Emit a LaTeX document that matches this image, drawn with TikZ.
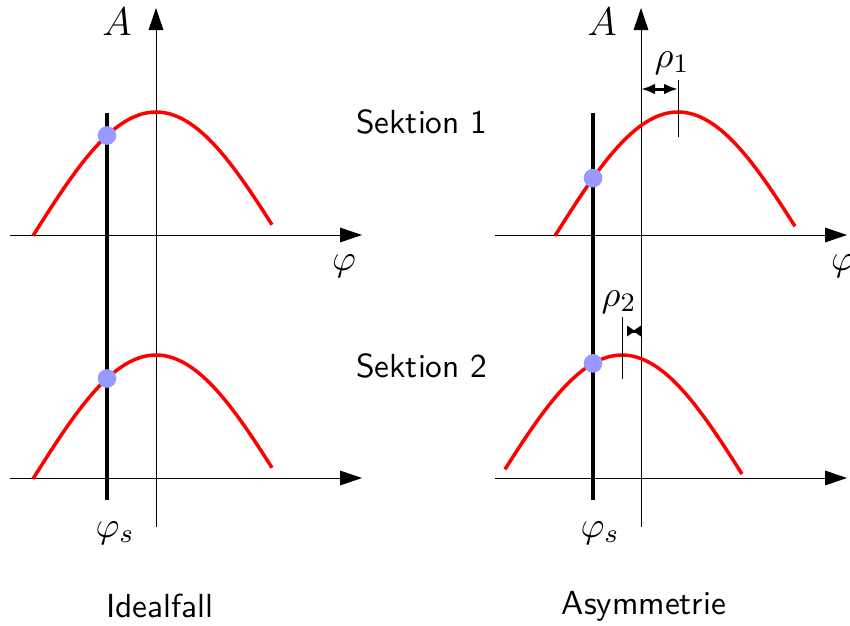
\documentclass[tikz,border=0pt]{standalone}
\usetikzlibrary{arrows.meta}
\begin{document}
\begin{tikzpicture}[x=0.3pt,y=-0.3pt,
  axis/.style={line width=0.28pt, -{Triangle[length=6.6pt,width=4.4pt]}},
  thinln/.style={line width=0.28pt},
  curve/.style={red, line width=1.05pt},
  phase/.style={black, line width=1.25pt},
  dot/.style={circle, fill=blue!40, inner sep=0pt, minimum size=5.6pt},
  mlabel/.style={font=\fontsize{11}{13}\selectfont, inner sep=0pt},
  alabel/.style={font=\fontsize{12.5}{14}\selectfont, inner sep=0pt},
  tlabel/.style={font=\sffamily\fontsize{10}{12}\selectfont, inner sep=0pt}]
\useasboundingbox (0,0) rectangle (850,626);

% ---------- left panel (Idealfall) ----------
\coordinate (LVb) at (156,527); \coordinate (LVt) at (156,8);
\coordinate (LH1a) at (10,235); \coordinate (LH1b) at (362,235);
\coordinate (LH2a) at (10,478); \coordinate (LH2b) at (362,478);
\draw[axis] (LVb) -- (LVt);
\draw[axis] (LH1a) -- (LH1b);
\draw[axis] (LH2a) -- (LH2b);
\draw[curve] plot[domain=33:272, samples=80, smooth] (\x, {235-123*cos(deg((\x-156)/78))});
\draw[curve] plot[domain=33:272, samples=80, smooth] (\x, {478-123*cos(deg((\x-156)/78))});
\coordinate (LPa) at (107,113); \coordinate (LPb) at (107,500);
\draw[phase] (LPa) -- (LPb);
\node[dot] (ld1) at (107,{235-123*cos(deg((107-156)/78))}) {};
\node[dot] (ld2) at (107,{478-123*cos(deg((107-156)/78))}) {};
\node[alabel] (lA) at (117,22) {$A$};
\node[mlabel] (lphi) at (344,266) {$\varphi$};
\node[mlabel] (lphis) at (115,533) {$\varphi_s$};
\node[tlabel] (ideal) at (160,606) {Idealfall};

% ---------- middle texts ----------
\node[tlabel] (s1) at (422,122) {Sektion 1};
\node[tlabel] (s2) at (422,366) {Sektion 2};

% ---------- right panel (Asymmetrie) ----------
\coordinate (RVb) at (641,527); \coordinate (RVt) at (641,8);
\coordinate (RH1a) at (495,235); \coordinate (RH1b) at (847,235);
\coordinate (RH2a) at (495,478); \coordinate (RH2b) at (847,478);
\draw[axis] (RVb) -- (RVt);
\draw[axis] (RH1a) -- (RH1b);
\draw[axis] (RH2a) -- (RH2b);
\draw[curve] plot[domain=555:795, samples=80, smooth] (\x, {235-123*cos(deg((\x-678)/78))});
\draw[curve] plot[domain=505:742, samples=80, smooth] (\x, {478-123*cos(deg((\x-622)/78))});
\coordinate (RPa) at (593,113); \coordinate (RPb) at (593,500);
\draw[phase] (RPa) -- (RPb);
\node[dot] (rd1) at (593,{235-123*cos(deg((593-678)/78))}) {};
\node[dot] (rd2) at (593,{478-123*cos(deg((593-622)/78))}) {};
\node[alabel] (rA) at (602,22) {$A$};
\node[mlabel] (rphi) at (843,266) {$\varphi$};
\node[mlabel] (rphis) at (600,533) {$\varphi_s$};
\node[tlabel] (asym) at (644,606) {Asymmetrie};

% rho 1
\coordinate (r1t) at (678,80); \coordinate (r1b) at (678,137);
\draw[thinln] (r1t) -- (r1b);
\coordinate (r1l) at (641,89); \coordinate (r1r) at (678,89);
\draw[line width=0.9pt, {Latex[length=4.2pt,width=3.2pt]}-{Latex[length=4.2pt,width=3.2pt]}] (r1l) -- (r1r);
\node[mlabel] (rho1) at (672,63) {$\rho_1$};

% rho 2
\coordinate (r2t) at (622,317); \coordinate (r2b) at (622,379);
\draw[thinln] (r2t) -- (r2b);
\coordinate (r2l) at (627,331); \coordinate (r2r) at (641,331);
\draw[line width=0.9pt] (r2l) -- (r2r);
\fill (627,325.5) -- (635,331) -- (627,336.5) -- cycle;
\fill (641,325.5) -- (633,331) -- (641,336.5) -- cycle;
\node[mlabel] (rho2) at (619,302) {$\rho_2$};
\end{tikzpicture}
\end{document}
